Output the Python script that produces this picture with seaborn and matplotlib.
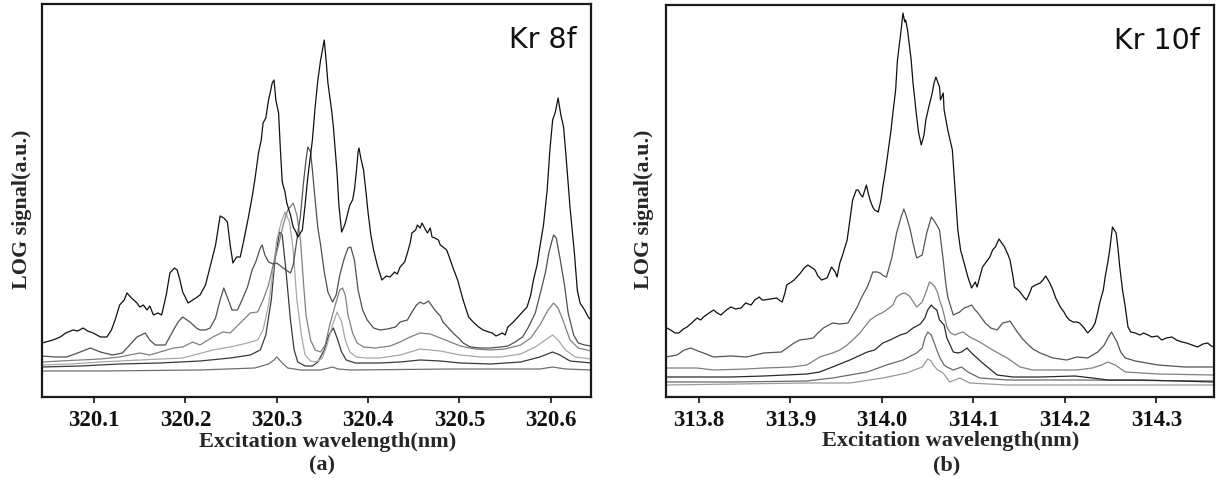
import matplotlib
matplotlib.use("Agg")
import matplotlib.pyplot as plt
import seaborn as sns

# ---------------- Kr 8f scan (panel a) ----------------
a1_wl = [320.043, 320.055, 320.063, 320.069, 320.077, 320.082, 320.088, 320.093, 320.099, 320.107,
         320.114, 320.119, 320.123, 320.128, 320.133, 320.136, 320.141, 320.147, 320.150, 320.154,
         320.158, 320.161, 320.165, 320.170, 320.174, 320.179, 320.183, 320.188, 320.191, 320.194,
         320.197, 320.203, 320.208, 320.213, 320.216, 320.222, 320.227, 320.233, 320.238, 320.242,
         320.246, 320.249, 320.252, 320.256, 320.260, 320.264, 320.269, 320.273, 320.276, 320.280,
         320.283, 320.285, 320.288, 320.291, 320.293, 320.295, 320.297, 320.299, 320.302, 320.304,
         320.306, 320.309, 320.311, 320.315, 320.318, 320.321, 320.323, 320.328, 320.331, 320.334,
         320.339, 320.342, 320.345, 320.348, 320.350, 320.352, 320.354, 320.356, 320.360, 320.362,
         320.364, 320.366, 320.368, 320.371, 320.373, 320.375, 320.378, 320.380, 320.383, 320.385,
         320.387, 320.389, 320.390, 320.392, 320.395, 320.398, 320.400, 320.403, 320.406, 320.410,
         320.415, 320.420, 320.424, 320.429, 320.432, 320.435, 320.440, 320.443, 320.446, 320.448,
         320.452, 320.454, 320.457, 320.459, 320.463, 320.465, 320.468, 320.470, 320.473, 320.477,
         320.479, 320.482, 320.486, 320.490, 320.493, 320.498, 320.501, 320.504, 320.510, 320.515,
         320.521, 320.526, 320.532, 320.536, 320.540, 320.547, 320.550, 320.553, 320.559, 320.564,
         320.569, 320.574, 320.578, 320.581, 320.585, 320.588, 320.592, 320.596, 320.599, 320.602,
         320.605, 320.608, 320.611, 320.614, 320.617, 320.621, 320.626, 320.629, 320.632, 320.637,
         320.641, 320.644]
a1_sig = [54, 57, 60, 64, 67, 66, 69, 66, 64, 60,
          60, 67, 77, 92, 97, 104, 99, 94, 90, 92,
          87, 91, 82, 84, 82, 102, 124, 129, 127, 117,
          105, 94, 97, 100, 102, 112, 130, 152, 181, 179,
          175, 152, 134, 140, 140, 157, 180, 200, 217, 244,
          257, 274, 279, 297, 305, 314, 317, 297, 284, 247,
          215, 205, 194, 182, 170, 165, 160, 167, 192, 220,
          257, 290, 317, 337, 347, 357, 337, 314, 287, 270,
          247, 224, 192, 165, 169, 174, 185, 192, 197, 207,
          224, 245, 249, 239, 227, 202, 184, 162, 147, 132,
          117, 121, 120, 125, 123, 130, 135, 144, 154, 164,
          167, 172, 169, 174, 167, 164, 169, 160, 159, 157,
          152, 150, 147, 137, 129, 117, 107, 97, 80, 75,
          70, 67, 65, 64, 61, 64, 62, 70, 75, 80,
          85, 90, 102, 117, 132, 150, 172, 207, 247, 277,
          285, 299, 282, 270, 237, 190, 142, 107, 94, 87,
          80, 77]

a2_wl = [320.043, 320.057, 320.070, 320.082, 320.096, 320.107, 320.120, 320.131, 320.139, 320.147,
         320.156, 320.161, 320.167, 320.178, 320.187, 320.192, 320.197, 320.205, 320.212, 320.216,
         320.222, 320.227, 320.233, 320.238, 320.242, 320.247, 320.251, 320.257, 320.262, 320.268,
         320.273, 320.277, 320.282, 320.284, 320.287, 320.291, 320.296, 320.300, 320.307, 320.315,
         320.318, 320.322, 320.326, 320.329, 320.332, 320.334, 320.337, 320.339, 320.342, 320.345,
         320.348, 320.352, 320.356, 320.361, 320.365, 320.369, 320.374, 320.378, 320.381, 320.385,
         320.389, 320.394, 320.399, 320.406, 320.413, 320.421, 320.430, 320.435, 320.443, 320.448,
         320.453, 320.457, 320.461, 320.466, 320.470, 320.473, 320.479, 320.482, 320.488, 320.493,
         320.499, 320.504, 320.512, 320.523, 320.534, 320.545, 320.553, 320.561, 320.569, 320.575,
         320.583, 320.588, 320.594, 320.598, 320.603, 320.606, 320.610, 320.615, 320.619, 320.625,
         320.630, 320.637, 320.644]
a2_sig = [41, 40, 40, 44, 49, 45, 42, 44, 52, 60,
          64, 57, 52, 52, 67, 75, 80, 75, 69, 67,
          67, 69, 79, 97, 109, 97, 87, 87, 97, 110,
          127, 135, 149, 152, 142, 135, 133, 134, 129, 124,
          132, 157, 182, 212, 237, 250, 245, 227, 197, 169,
          152, 125, 105, 95, 102, 122, 139, 149, 150, 137,
          107, 87, 77, 69, 67, 68, 70, 75, 77, 85,
          92, 95, 93, 96, 91, 87, 81, 75, 69, 64,
          59, 54, 50, 49, 49, 50, 51, 55, 60, 69,
          84, 102, 124, 145, 162, 159, 139, 112, 84, 62,
          54, 52, 51]

a3_wl = [320.043, 320.063, 320.085, 320.107, 320.128, 320.150, 320.161, 320.172, 320.187, 320.197,
         320.208, 320.216, 320.230, 320.241, 320.249, 320.260, 320.271, 320.279, 320.285, 320.291,
         320.296, 320.302, 320.307, 320.312, 320.318, 320.322, 320.326, 320.329, 320.332, 320.337,
         320.342, 320.348, 320.353, 320.358, 320.364, 320.369, 320.372, 320.375, 320.378, 320.383,
         320.388, 320.395, 320.408, 320.424, 320.435, 320.446, 320.457, 320.468, 320.479, 320.490,
         320.501, 320.517, 320.534, 320.550, 320.567, 320.578, 320.588, 320.597, 320.603, 320.608,
         320.614, 320.621, 320.630, 320.644]
a3_sig = [35, 36, 37, 38, 40, 44, 42, 45, 49, 50,
          55, 52, 60, 65, 64, 74, 84, 85, 97, 112,
          132, 152, 172, 187, 194, 182, 157, 117, 82, 57,
          47, 45, 52, 72, 92, 107, 109, 102, 82, 64,
          54, 50, 49, 51, 55, 60, 64, 63, 59, 55,
          51, 48, 47, 48, 52, 59, 72, 87, 94, 89,
          75, 57, 49, 46]

a4_wl = [320.043, 320.074, 320.107, 320.150, 320.197, 320.230, 320.249, 320.268, 320.279, 320.285,
         320.291, 320.296, 320.300, 320.305, 320.309, 320.314, 320.318, 320.322, 320.327, 320.331,
         320.337, 320.343, 320.350, 320.355, 320.361, 320.366, 320.371, 320.375, 320.380, 320.387,
         320.397, 320.413, 320.435, 320.457, 320.479, 320.501, 320.523, 320.545, 320.567, 320.583,
         320.594, 320.602, 320.608, 320.616, 320.627, 320.644]
a4_sig = [32, 33, 35, 37, 39, 47, 50, 54, 57, 67,
          92, 127, 157, 175, 185, 175, 147, 97, 62, 42,
          36, 35, 39, 52, 72, 85, 75, 57, 45, 40,
          39, 39, 42, 48, 46, 42, 40, 40, 43, 50,
          57, 62, 57, 47, 40, 38]

a5_wl = [320.043, 320.085, 320.128, 320.172, 320.216, 320.249, 320.271, 320.282, 320.288, 320.294,
         320.298, 320.303, 320.306, 320.310, 320.315, 320.319, 320.323, 320.331, 320.339, 320.345,
         320.352, 320.357, 320.362, 320.366, 320.371, 320.376, 320.386, 320.413, 320.435, 320.457,
         320.479, 320.501, 320.534, 320.567, 320.588, 320.602, 320.610, 320.621, 320.644]
a5_sig = [30, 31, 33, 34, 36, 39, 42, 47, 62, 97,
          137, 165, 162, 127, 77, 47, 35, 31, 31, 35,
          47, 62, 69, 59, 45, 37, 34, 34, 35, 37,
          36, 34, 33, 35, 40, 45, 42, 36, 34]

a6_wl = [320.043, 320.107, 320.216, 320.276, 320.291, 320.297, 320.300, 320.305, 320.312, 320.326,
         320.348, 320.357, 320.361, 320.367, 320.381, 320.490, 320.588, 320.602, 320.616, 320.644]
a6_sig = [26, 26, 27, 29, 33, 37, 40, 35, 29, 27,
          27, 29, 30, 28, 27, 28, 28, 30, 28, 27]

# ---------------- Kr 10f scan (panel b) ----------------
b1_wl = [313.764, 313.765, 313.769, 313.774, 313.778, 313.783, 313.787, 313.792, 313.798, 313.802,
         313.805, 313.811, 313.816, 313.820, 313.824, 313.830, 313.835, 313.840, 313.846, 313.851,
         313.857, 313.861, 313.866, 313.869, 313.871, 313.878, 313.885, 313.889, 313.891, 313.894,
         313.896, 313.901, 313.904, 313.908, 313.911, 313.915, 313.919, 313.924, 313.927, 313.930,
         313.934, 313.940, 313.945, 313.949, 313.951, 313.954, 313.957, 313.962, 313.965, 313.968,
         313.972, 313.974, 313.977, 313.979, 313.983, 313.985, 313.987, 313.990, 313.992, 313.996,
         313.999, 314.001, 314.004, 314.007, 314.010, 314.012, 314.015, 314.017, 314.021, 314.023,
         314.025, 314.026, 314.027, 314.028, 314.032, 314.034, 314.036, 314.038, 314.040, 314.043,
         314.046, 314.048, 314.051, 314.055, 314.057, 314.059, 314.061, 314.063, 314.064, 314.067,
         314.068, 314.072, 314.077, 314.080, 314.083, 314.086, 314.089, 314.092, 314.094, 314.098,
         314.102, 314.104, 314.107, 314.110, 314.114, 314.118, 314.121, 314.124, 314.126, 314.128,
         314.131, 314.134, 314.138, 314.140, 314.143, 314.145, 314.149, 314.151, 314.155, 314.158,
         314.162, 314.164, 314.168, 314.173, 314.176, 314.179, 314.183, 314.187, 314.190, 314.195,
         314.199, 314.202, 314.205, 314.209, 314.213, 314.216, 314.221, 314.225, 314.230, 314.233,
         314.236, 314.238, 314.242, 314.244, 314.247, 314.249, 314.252, 314.256, 314.258, 314.260,
         314.263, 314.266, 314.269, 314.272, 314.277, 314.282, 314.286, 314.291, 314.295, 314.301,
         314.306, 314.311, 314.317, 314.322, 314.328, 314.333, 314.339, 314.345, 314.351, 314.356,
         314.360, 314.363]
b1_sig = [67, 69, 67, 64, 64, 68, 70, 74, 79, 77,
          80, 84, 87, 84, 82, 87, 90, 88, 89, 94,
          92, 97, 100, 97, 97, 98, 99, 96, 95, 104,
          112, 115, 117, 121, 124, 129, 132, 129, 127, 121,
          117, 119, 130, 125, 120, 134, 142, 157, 177, 197,
          207, 207, 202, 200, 212, 204, 197, 190, 187, 185,
          197, 210, 227, 247, 267, 284, 307, 337, 367, 384,
          375, 377, 372, 367, 337, 314, 297, 280, 265, 252,
          262, 277, 289, 304, 314, 320, 315, 310, 297, 304,
          287, 267, 247, 207, 167, 147, 137, 127, 120, 109,
          115, 110, 120, 130, 135, 140, 147, 150, 154, 158,
          154, 150, 142, 137, 122, 110, 107, 105, 100, 97,
          105, 110, 112, 114, 117, 121, 115, 107, 99, 90,
          85, 80, 77, 75, 75, 74, 69, 64, 69, 74,
          85, 94, 107, 120, 135, 147, 170, 164, 149, 130,
          107, 90, 70, 65, 64, 62, 64, 62, 60, 61,
          57, 59, 60, 57, 55, 54, 52, 50, 53, 54,
          51, 50]

b2_wl = [313.764, 313.776, 313.784, 313.791, 313.799, 313.805, 313.816, 313.835, 313.852, 313.871,
         313.890, 313.904, 313.910, 313.918, 313.925, 313.930, 313.936, 313.946, 313.954, 313.963,
         313.968, 313.973, 313.978, 313.984, 313.987, 313.990, 313.995, 313.998, 314.002, 314.005,
         314.011, 314.014, 314.016, 314.021, 314.024, 314.027, 314.031, 314.034, 314.038, 314.044,
         314.049, 314.054, 314.058, 314.063, 314.067, 314.070, 314.072, 314.078, 314.085, 314.090,
         314.093, 314.098, 314.102, 314.105, 314.113, 314.119, 314.126, 314.132, 314.137, 314.140,
         314.148, 314.153, 314.158, 314.165, 314.173, 314.187, 314.202, 314.213, 314.225, 314.236,
         314.243, 314.247, 314.251, 314.257, 314.261, 314.266, 314.277, 314.302, 314.331, 314.363]
b2_sig = [40, 42, 47, 49, 46, 44, 40, 41, 40, 44,
          45, 54, 57, 58, 59, 64, 69, 74, 73, 74,
          82, 90, 100, 110, 117, 125, 125, 124, 121, 120,
          140, 154, 164, 180, 188, 180, 167, 154, 139, 142,
          164, 180, 175, 167, 137, 112, 100, 82, 85, 89,
          90, 92, 87, 84, 74, 69, 67, 74, 75, 76,
          65, 59, 54, 48, 44, 39, 37, 40, 39, 45,
          52, 59, 65, 55, 45, 39, 36, 32, 30, 30]

b3_wl = [313.764, 313.798, 313.816, 313.852, 313.871, 313.901, 313.918, 313.932, 313.946, 313.954,
         313.962, 313.968, 313.976, 313.981, 313.987, 313.995, 314.000, 314.005, 314.012, 314.016,
         314.021, 314.025, 314.030, 314.033, 314.038, 314.044, 314.047, 314.049, 314.052, 314.055,
         314.058, 314.061, 314.063, 314.066, 314.068, 314.071, 314.075, 314.080, 314.085, 314.089,
         314.093, 314.096, 314.107, 314.121, 314.137, 314.151, 314.165, 314.187, 314.213, 314.230,
         314.240, 314.247, 314.255, 314.266, 314.302, 314.363]
b3_sig = [29, 29, 27, 28, 29, 30, 32, 40, 44, 47,
          52, 57, 64, 70, 77, 82, 84, 87, 92, 100,
          103, 104, 101, 97, 90, 95, 102, 107, 115, 113,
          110, 104, 97, 89, 82, 70, 64, 62, 64, 65,
          62, 60, 55, 47, 39, 30, 27, 27, 27, 29,
          32, 35, 32, 25, 23, 22]

b4_wl = [313.764, 313.798, 313.835, 313.871, 313.918, 313.932, 313.946, 313.965, 313.984, 313.992,
         314.001, 314.009, 314.020, 314.027, 314.034, 314.042, 314.047, 314.050, 314.054, 314.057,
         314.060, 314.063, 314.068, 314.071, 314.078, 314.083, 314.087, 314.093, 314.098, 314.110,
         314.126, 314.143, 314.173, 314.211, 314.230, 314.247, 314.284, 314.363]
b4_sig = [20, 20, 20, 21, 23, 25, 30, 37, 45, 47,
          54, 57, 62, 64, 69, 73, 79, 87, 92, 89,
          87, 77, 72, 59, 45, 44, 45, 49, 44, 34,
          22, 20, 20, 21, 19, 17, 17, 15]

b5_wl = [313.764, 313.835, 313.918, 313.946, 313.984, 314.005, 314.023, 314.038, 314.044, 314.047,
         314.050, 314.054, 314.056, 314.060, 314.063, 314.068, 314.071, 314.078, 314.087, 314.094,
         314.107, 314.137, 314.213, 314.363]
b5_sig = [15, 15, 16, 19, 25, 32, 37, 44, 49, 59,
          65, 62, 57, 47, 40, 32, 30, 27, 30, 25,
          19, 17, 17, 16]

b6_wl = [313.764, 313.918, 313.965, 314.001, 314.027, 314.044, 314.048, 314.050, 314.054, 314.056,
         314.061, 314.067, 314.074, 314.080, 314.085, 314.096, 314.137, 314.213, 314.363]
b6_sig = [12, 14, 14, 19, 24, 30, 35, 38, 36, 32,
          27, 24, 15, 17, 19, 14, 12, 12, 12]

ticks_a = [320.1, 320.2, 320.3, 320.4, 320.5, 320.6]
ticks_b = [313.8, 313.9, 314.0, 314.1, 314.2, 314.3]
tick_labels_a = ["320.1", "320.2", "320.3", "320.4", "320.5", "320.6"]
tick_labels_b = ["313.8", "313.9", "314.0", "314.1", "314.2", "314.3"]

panel_a = [(a6_wl, a6_sig, "#6e6e6e"), (a5_wl, a5_sig, "#3a3a3a"), (a4_wl, a4_sig, "#a8a8a8"),
           (a3_wl, a3_sig, "#808080"), (a2_wl, a2_sig, "#505050"), (a1_wl, a1_sig, "#101010")]
panel_b = [(b6_wl, b6_sig, "#9a9a9a"), (b5_wl, b5_sig, "#6a6a6a"), (b4_wl, b4_sig, "#2a2a2a"),
           (b3_wl, b3_sig, "#808080"), (b2_wl, b2_sig, "#555555"), (b1_wl, b1_sig, "#101010")]

sns.set_theme(style="white")
serif = ["Liberation Serif", "DejaVu Serif"]

fig = plt.figure(figsize=(12.19, 4.78), dpi=100)
ax_a = fig.add_axes([42 / 1219, 1 - 397 / 478, 549 / 1219, 393 / 478])
ax_b = fig.add_axes([666 / 1219, 1 - 397 / 478, 548 / 1219, 392 / 478])

setups = [
    (ax_a, panel_a, (320.043, 320.644), 393, ticks_a, tick_labels_a, "Kr 8f", "(a)", -0.036, 0.51),
    (ax_b, panel_b, (313.764, 314.363), 392, ticks_b, tick_labels_b, "Kr 10f", "(b)", -0.040, 0.513),
]

for ax, traces, xlim, ytop, ticks, labels, tag, letter, ylab_x, letter_x in setups:
    for wl, sig, col in traces:
        assert len(wl) == len(sig)
        sns.lineplot(x=wl, y=sig, ax=ax, color=col, linewidth=0.9,
                     estimator=None, sort=False)
    ax.set_xlim(*xlim)
    ax.set_ylim(0, ytop)
    ax.set_yticks([])
    ax.set_xticks(ticks)
    ax.set_xticklabels(labels, fontfamily=serif, fontweight="bold", fontsize=16.5)
    ax.tick_params(axis="x", direction="out", length=4, width=1.2, pad=5,
                   colors="#111111", bottom=True)
    for sp in ax.spines.values():
        sp.set_visible(True)
        sp.set_color("#1a1a1a")
        sp.set_linewidth(1.6)
    ax.set_xlabel("")
    ax.set_ylabel("")
    ax.text(0.52, -0.088, "Excitation wavelength(nm)", transform=ax.transAxes,
            ha="center", va="top", fontfamily=serif, fontweight="bold", fontsize=16)
    ax.text(letter_x, -0.150, letter, transform=ax.transAxes,
            ha="center", va="top", fontfamily=serif, fontweight="bold", fontsize=16)
    ax.text(ylab_x, 0.478, "LOG signal(a.u.)", transform=ax.transAxes, rotation=90,
            ha="center", va="center", fontfamily=serif, fontweight="bold", fontsize=15.8)
    ax.text(0.974, 0.887, tag, transform=ax.transAxes, ha="right", va="baseline",
            fontfamily=["DejaVu Sans"], fontsize=20.5, color="#111111")

fig.savefig("out.png", dpi=100)
